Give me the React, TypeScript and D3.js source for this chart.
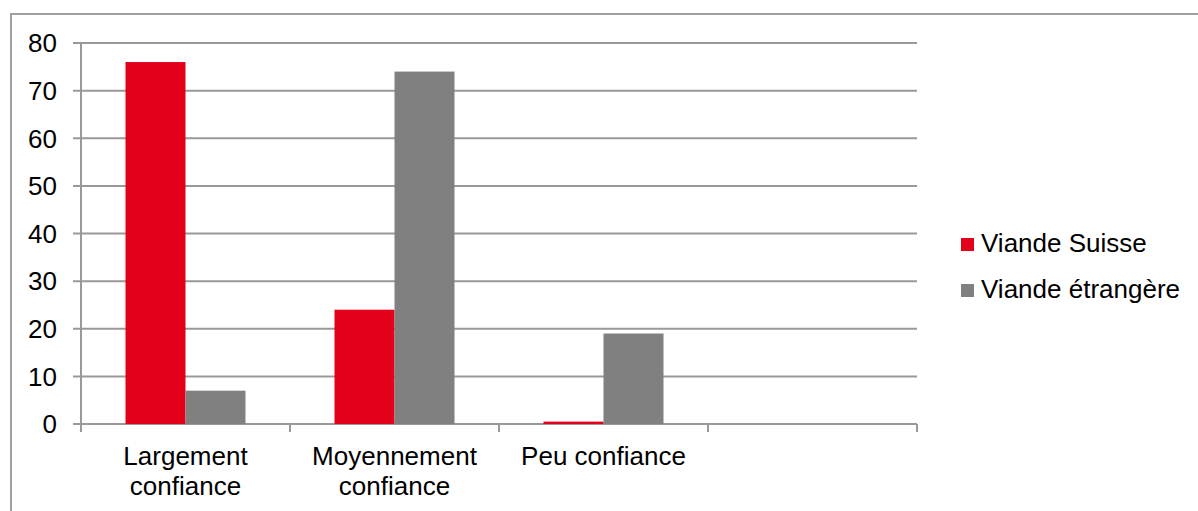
import { useEffect, useRef } from 'react';
import * as d3 from 'd3';

const categories = ['Largement confiance', 'Moyennement confiance', 'Peu confiance', ''];
const series = ['Viande Suisse', 'Viande étrangère'];
const suisse = [76, 24, 0.5, null];
const etrangere = [7, 74, 19, null];
const yTicks = [0, 10, 20, 30, 40, 50, 60, 70, 80];
const colors = ['#E2001A', '#808080'];

const App = () => {
  const svgRef = useRef<SVGSVGElement | null>(null);

  useEffect(() => {
    const width = 1198;
    const height = 511;
    const left = 81;
    const right = 917;
    const top = 43;
    const bottom = 424;
    const font = '"Liberation Sans", Arial, sans-serif';
    const fs = '26px';

    const svg = d3.select(svgRef.current)
      .attr('width', width)
      .attr('height', height);
    svg.selectAll('*').remove();

    // outer chart border (cut off right and bottom)
    svg.append('rect')
      .attr('x', 11)
      .attr('y', 14)
      .attr('width', 1300)
      .attr('height', 600)
      .attr('fill', 'none')
      .attr('stroke', '#a0a0a0')
      .attr('stroke-width', 2);

    const y = d3.scaleLinear().domain([0, 80]).range([bottom, top]);
    const pi = 89 / 209;
    const x0 = d3.scaleBand<string>()
      .domain(categories.map((c, i) => String(i)))
      .range([left, right])
      .paddingInner(pi)
      .paddingOuter(pi / 2);
    const x1 = d3.scaleBand<string>()
      .domain(series)
      .range([0, x0.bandwidth()]);

    // gridlines + y ticks
    svg.append('g')
      .selectAll('line')
      .data(yTicks)
      .join('line')
      .attr('x1', left - 8)
      .attr('x2', right)
      .attr('y1', d => y(d))
      .attr('y2', d => y(d))
      .attr('stroke', '#999')
      .attr('stroke-width', 2);

    svg.append('g')
      .selectAll('text')
      .data(yTicks)
      .join('text')
      .attr('x', 57)
      .attr('y', d => y(d))
      .attr('dy', '0.36em')
      .attr('text-anchor', 'end')
      .style('font-family', font)
      .style('font-size', fs)
      .attr('fill', '#000')
      .text(d => d);

    // bars
    const data = [suisse, etrangere];
    data.forEach((vals, si) => {
      svg.append('g')
        .selectAll('rect')
        .data(vals.map((v, i) => ({ v, i })).filter(d => d.v !== null))
        .join('rect')
        .attr('x', d => (x0(String(d.i)) as number) + (x1(series[si]) as number))
        .attr('y', d => y(d.v as number))
        .attr('width', x1.bandwidth())
        .attr('height', d => bottom - y(d.v as number))
        .attr('fill', colors[si]);
    });

    // y axis line
    svg.append('line')
      .attr('x1', left).attr('x2', left)
      .attr('y1', top).attr('y2', bottom)
      .attr('stroke', '#999')
      .attr('stroke-width', 2);

    // x axis ticks
    const step = x0.step();
    svg.append('g')
      .selectAll('line')
      .data(d3.range(categories.length + 1))
      .join('line')
      .attr('x1', d => left + d * step)
      .attr('x2', d => left + d * step)
      .attr('y1', bottom)
      .attr('y2', bottom + 8)
      .attr('stroke', '#999')
      .attr('stroke-width', 2);

    // category labels
    const labels: Record<number, string[]> = {
      0: ['Largement', 'confiance'],
      1: ['Moyennement', 'confiance'],
      2: ['Peu confiance'],
    };
    categories.forEach((c, i) => {
      if (!c) return;
      const cx = (x0(String(i)) as number) + x0.bandwidth() / 2;
      const t = svg.append('text')
        .attr('text-anchor', 'middle')
        .style('font-family', font)
        .style('font-size', fs)
        .attr('fill', '#000');
      (labels[i] || [c]).forEach((line, li) => {
        t.append('tspan')
          .attr('x', cx)
          .attr('y', 465 + li * 30)
          .text(line);
      });
    });

    // legend
    const lg = svg.append('g');
    series.forEach((s, i) => {
      lg.append('rect')
        .attr('x', 961)
        .attr('y', 238 + i * 46)
        .attr('width', 13)
        .attr('height', 13)
        .attr('fill', colors[i]);
      lg.append('text')
        .attr('x', 981)
        .attr('y', 252 + i * 46)
        .style('font-family', font)
        .style('font-size', fs)
        .attr('fill', '#000')
        .text(s);
    });
  }, []);

  return (
    <svg
      ref={svgRef}
      style={{ position: 'absolute', left: 0, top: 0, background: '#fff' }}
    />
  );
};

export default App;
